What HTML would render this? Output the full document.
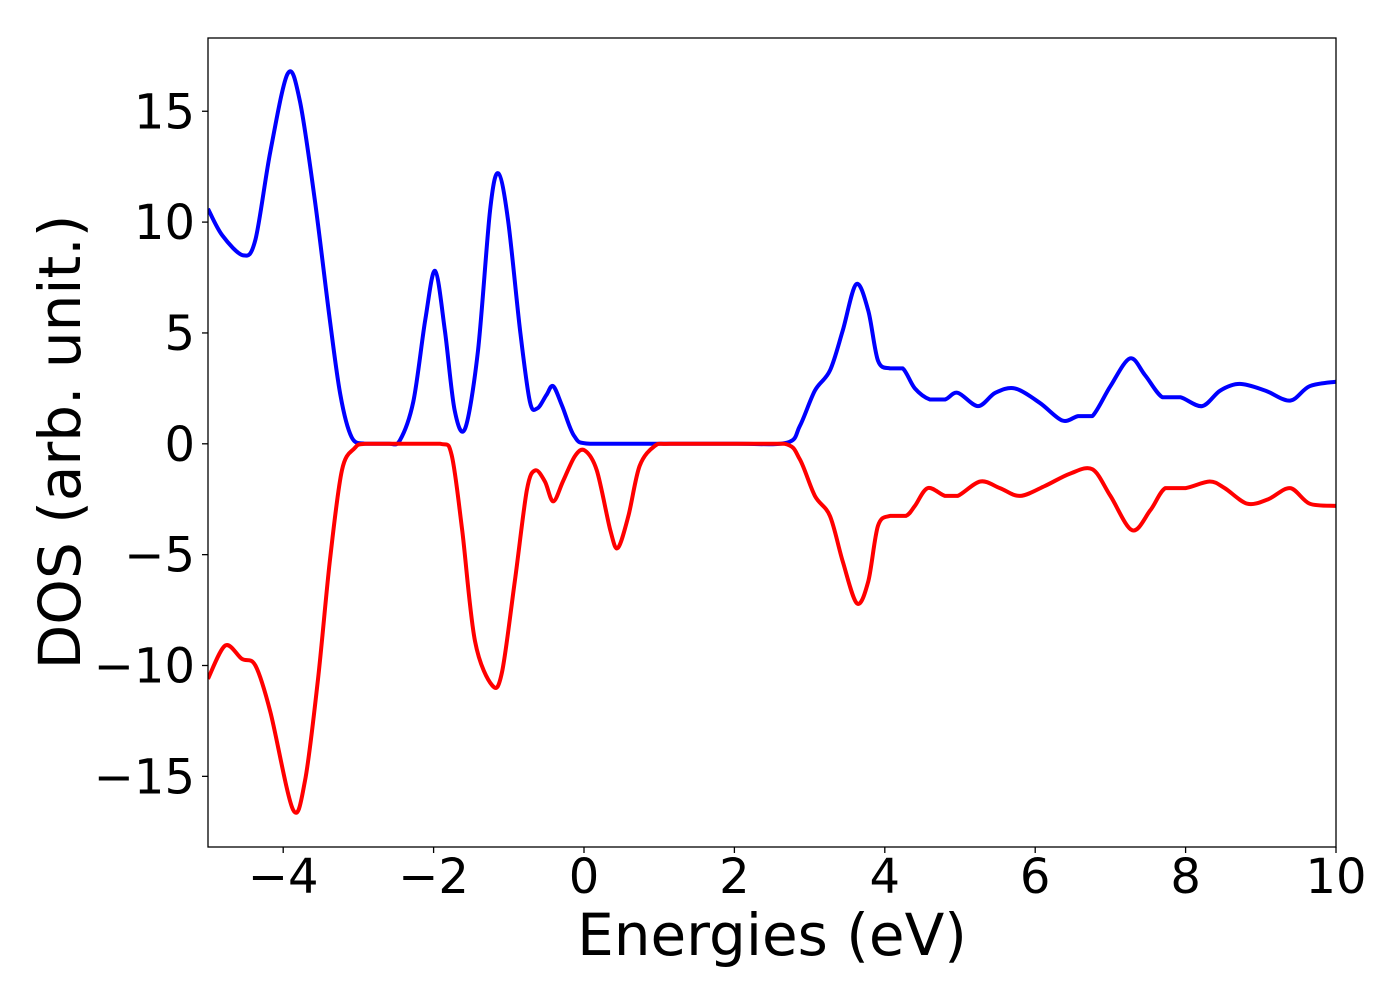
<!DOCTYPE html>
<html><head><meta charset="utf-8"><style>
html,body{margin:0;padding:0;background:#fff;}
svg text{font-family:"DejaVu Sans","Liberation Sans",sans-serif;fill:#000;}
</style></head><body>
<svg id="chart" width="1400" height="1000" viewBox="0 0 1400 1000" xmlns="http://www.w3.org/2000/svg">
<rect x="0" y="0" width="1400" height="1000" fill="#fff"/>
<g id="plot"></g>
<rect x="208" y="38" width="1128" height="809" fill="none" stroke="#000" stroke-width="1.3"/>
<g id="xticks"></g><g id="yticks"></g>
<text x="772" y="955" font-size="58" text-anchor="middle">Energies (eV)</text>
<text transform="translate(80,442) rotate(-90)" font-size="58" text-anchor="middle">DOS (arb. unit.)</text>
</svg>
<script>
const upE=[-5,-4.81,-4.53,-4.37,-4.17,-3.94,-3.78,-3.58,-3.38,-3.24,-3.09,-2.91,-2.6,-2.45,-2.27,-2.11,-1.98,-1.85,-1.72,-1.58,-1.41,-1.25,-1.14,-1.01,-0.85,-0.72,-0.62,-0.5,-0.41,-0.29,-0.13,0.08,1,2,2.7,2.87,3.07,3.27,3.44,3.62,3.78,3.91,4.07,4.24,4.4,4.6,4.8,4.97,5.24,5.47,5.73,6.06,6.36,6.57,6.76,7.0,7.26,7.46,7.69,7.93,8.22,8.46,8.72,9.06,9.39,9.65,10];
const upV=[10.6,9.4,8.5,9.2,13.2,16.7,15.5,11.0,5.6,2.2,0.3,0,0,0.15,1.9,5.6,7.8,5.1,1.5,0.7,4.2,10.5,12.2,10.1,5.1,1.9,1.6,2.2,2.6,1.7,0.35,0,0,0,0.05,0.8,2.4,3.3,5.1,7.2,6.0,3.75,3.4,3.4,2.5,2.0,2.0,2.3,1.7,2.3,2.5,1.85,1.05,1.25,1.25,2.6,3.85,3.1,2.1,2.1,1.7,2.4,2.7,2.4,1.95,2.6,2.8];
const dnE=[-5,-4.77,-4.55,-4.37,-4.17,-3.87,-3.71,-3.54,-3.38,-3.22,-3.05,-2.91,-2.4,-1.91,-1.76,-1.62,-1.45,-1.22,-1.09,-0.92,-0.76,-0.65,-0.52,-0.41,-0.28,-0.12,0.01,0.17,0.35,0.45,0.59,0.74,0.94,1.14,2,2.67,2.87,3.07,3.27,3.44,3.63,3.78,3.91,4.07,4.28,4.4,4.57,4.8,4.97,5.27,5.53,5.8,6.13,6.46,6.76,7.0,7.29,7.53,7.73,8.0,8.32,8.52,8.82,9.1,9.39,9.65,10];
const dnV=[-10.6,-9.1,-9.7,-10.0,-12.1,-16.5,-15.2,-10.7,-5.3,-1.2,-0.2,0,0,0,-0.5,-3.9,-8.9,-10.9,-10.3,-6.2,-2.1,-1.2,-1.7,-2.6,-1.7,-0.55,-0.3,-1.2,-3.9,-4.7,-3.25,-1.0,-0.1,0,0,0,-0.7,-2.35,-3.25,-5.3,-7.2,-6.2,-3.7,-3.25,-3.25,-2.8,-2.0,-2.35,-2.35,-1.7,-2.0,-2.35,-1.9,-1.35,-1.15,-2.35,-3.9,-3.0,-2.0,-2.0,-1.7,-2.0,-2.7,-2.5,-2.0,-2.7,-2.8];
const xTicks=[-4,-2,0,2,4,6,8,10];
const yTicks=[-15,-10,-5,0,5,10,15];
const X0=208,X1=1336,XMIN=-5,XMAX=10;
const Y0=443.8,YS=22.17;
function sx(e){return X0+(e-XMIN)/(XMAX-XMIN)*(X1-X0);}
function sy(v){return Y0-v*YS;}
function lbl(n){return n<0?'\u2212'+Math.abs(n):String(n);}
const NS='http://www.w3.org/2000/svg';
function pathFor(E,V){
  const p=E.map((e,i)=>[sx(e),sy(V[i])]);
  let d='M'+p[0][0].toFixed(1)+','+p[0][1].toFixed(1);
  for(let i=0;i<p.length-1;i++){
    const a=p[Math.max(i-1,0)],b=p[i],c=p[i+1],n=p[Math.min(i+2,p.length-1)];
    const t=0.16;
    let c1y=b[1]+(c[1]-a[1])*t, c2y=c[1]-(n[1]-b[1])*t;
    if(b[1]===c[1]){c1y=b[1];c2y=c[1];}
    d+='C'+(b[0]+(c[0]-a[0])*t).toFixed(1)+','+c1y.toFixed(1)+' '+(c[0]-(n[0]-b[0])*t).toFixed(1)+','+c2y.toFixed(1)+' '+c[0].toFixed(1)+','+c[1].toFixed(1);
  }
  return d;
}
const plot=document.getElementById('plot');
const cp=document.createElementNS(NS,'clipPath');cp.setAttribute('id','clip');
const cr=document.createElementNS(NS,'rect');cr.setAttribute('x',X0);cr.setAttribute('y',38);cr.setAttribute('width',X1-X0);cr.setAttribute('height',809);
cp.appendChild(cr);plot.appendChild(cp);
[[upE,upV,'#0000ff','spin-up-line'],[dnE,dnV,'#ff0000','spin-down-line']].forEach(s=>{
  const pa=document.createElementNS(NS,'path');
  pa.setAttribute('d',pathFor(s[0],s[1]));
  pa.setAttribute('fill','none');pa.setAttribute('stroke',s[2]);pa.setAttribute('stroke-width','4');
  pa.setAttribute('stroke-linejoin','round');pa.setAttribute('clip-path','url(#clip)');
  
  
  plot.appendChild(pa);
});
const xg=document.getElementById('xticks');
xTicks.forEach(t=>{
  const x=sx(t);
  const l=document.createElementNS(NS,'line');
  l.setAttribute('x1',x);l.setAttribute('x2',x);l.setAttribute('y1',847);l.setAttribute('y2',853);l.setAttribute('stroke','#000');l.setAttribute('stroke-width','1.3');
  
  
  xg.appendChild(l);
  const tx=document.createElementNS(NS,'text');
  tx.setAttribute('x',x);tx.setAttribute('y',893);tx.setAttribute('font-size','48');tx.setAttribute('text-anchor','middle');
  tx.textContent=lbl(t);
  
  
  xg.appendChild(tx);
});
const yg=document.getElementById('yticks');
yTicks.forEach(t=>{
  const y=sy(t);
  const l=document.createElementNS(NS,'line');
  l.setAttribute('x1',202);l.setAttribute('x2',208);l.setAttribute('y1',y);l.setAttribute('y2',y);l.setAttribute('stroke','#000');l.setAttribute('stroke-width','1.3');
  
  
  yg.appendChild(l);
  const tx=document.createElementNS(NS,'text');
  tx.setAttribute('x',195);tx.setAttribute('y',y+17);tx.setAttribute('font-size','48');tx.setAttribute('text-anchor','end');
  tx.textContent=lbl(t);
  
  
  yg.appendChild(tx);
});
</script>
</body></html>
